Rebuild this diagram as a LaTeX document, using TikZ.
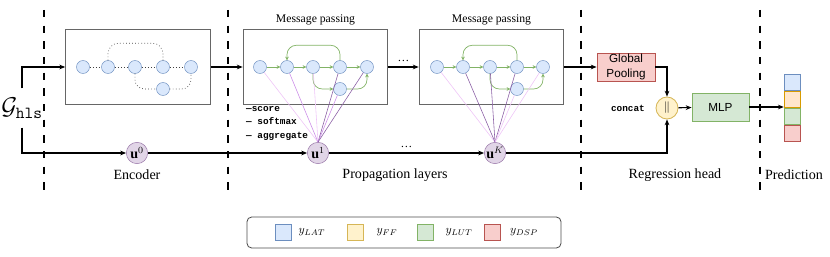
\documentclass[tikz,border=0pt]{standalone}
\usepackage{amsmath}
\usepackage{fontspec}
\setmainfont{Liberation Serif}
\setmonofont{Liberation Mono}
\newfontfamily\drawsans{Liberation Sans}
\newfontfamily\lmmono{Latin Modern Mono}
\usepackage{xcolor}
\definecolor{nodeblue}{HTML}{DAE8FC}
\definecolor{edgeblue}{HTML}{6C8EBF}
\definecolor{fillyellow}{HTML}{FFF2CC}
\definecolor{edgeyellow}{HTML}{D6B656}
\definecolor{fillorange}{HTML}{FFE6CC}
\definecolor{edgeorange}{HTML}{D79B00}
\definecolor{fillgreen}{HTML}{D5E8D4}
\definecolor{edgegreen}{HTML}{82B366}
\definecolor{fillred}{HTML}{F8CECC}
\definecolor{edgered}{HTML}{B85450}
\definecolor{fillpurple}{HTML}{E1D5E7}
\definecolor{edgepurple}{HTML}{9673A6}
\definecolor{attnlight}{HTML}{EEC4F7}
\definecolor{attnmid}{HTML}{CC8DE8}
\definecolor{attndark}{HTML}{8B5FA5}
\usepackage{tikz}
\usetikzlibrary{
  arrows.meta,
  positioning,
  calc
}

\begin{document}
\begin{tikzpicture}[
  x=0.03cm, y=-0.03cm,
  gnode/.style={circle, draw=edgeblue, fill=nodeblue, minimum size=0.39cm, inner sep=0pt},
  panel/.style={rectangle, draw=black!60, line width=0.8pt, minimum width=4.34cm, minimum height=2.25cm},
  unode/.style={circle, draw=edgepurple, fill=fillpurple, minimum size=0.64cm, inner sep=0pt, font=\large},
  box/.style={rectangle, minimum height=0.84cm, font=\drawsans, align=center, inner sep=1pt, line width=0.7pt},
  cell/.style={rectangle, minimum width=0.5cm, minimum height=0.48cm, inner sep=0pt, line width=0.7pt},
  arr/.style={-{Stealth[length=5pt, width=4pt]}, line width=0.9pt},
  msg/.style={-{Stealth[length=3pt, width=3pt]}, edgegreen, line width=0.6pt},
  link/.style={dotted, black!75, line width=0.6pt},
  attn/.style={line width=0.5pt},
  sep/.style={line width=2.5pt, dash pattern=on 0.22cm off 0.25cm},
  lbl/.style={font=\large}
]
  \useasboundingbox (0,0) rectangle (830,257);

  % stage separators
  \draw[sep] (44,10) -- (44,193);
  \draw[sep] (228,10) -- (228,193);
  \draw[sep] (581,10) -- (581,193);
  \draw[sep] (760,10) -- (760,193);

  % input graph
  \node[minimum height=1.17cm, inner sep=0pt, font=\huge] (g) at (22,108) {$\mathcal{G}_{\text{\lmmono hls}}$};

  % encoder
  \node[panel] (enc) at (138,67) {};
  \node[gnode] (e1) at (83,67) {};
  \node[gnode] (e2) at (108,67) {};
  \node[gnode] (e3) at (135,67) {};
  \node[gnode] (e4) at (163,67) {};
  \node[gnode] (e5) at (191,67) {};
  \node[gnode] (e6) at (163,89) {};
  \draw[link] (e1) -- (e2) (e2) -- (e3) (e3) -- (e4) (e4) -- (e5);
  \draw[link, rounded corners=9pt] (e2.north) -- ++(0,-17) -| (e4.north);
  \draw[link, rounded corners=8pt] (e3.south) |- (e6.west);
  \draw[link, rounded corners=8pt] (e6.east) -| (e5.south);

  % first propagation layer
  \node[panel] (mp1) at (315.5,67) {};
  \node[above=0pt of mp1] {Message passing};
  \node[gnode] (a1) at (260,67) {};
  \node[gnode] (a2) at (287,67) {};
  \node[gnode] (a3) at (313,67) {};
  \node[gnode] (a4) at (340,67) {};
  \node[gnode] (a5) at (367,67) {};
  \node[gnode] (a6) at (340,89) {};
  \draw[msg] (a1) -- (a2);
  \draw[msg] (a2) -- (a3);
  \draw[msg] (a3) -- (a4);
  \draw[msg] (a4) -- (a5);
  \draw[msg, rounded corners=8pt] (a4.north) -- ++(0,-15) -| (a2.north);
  \draw[msg, rounded corners=8pt] (a3.south) |- (a6.west);
  \draw[msg, rounded corners=8pt] (a6.east) -| (a5.south);

  % last propagation layer
  \node[panel] (mp2) at (491.5,67) {};
  \node[above=0pt of mp2] {Message passing};
  \node[gnode] (b1) at (437,67) {};
  \node[gnode] (b2) at (463,67) {};
  \node[gnode] (b3) at (490,67) {};
  \node[gnode] (b4) at (517,67) {};
  \node[gnode] (b5) at (543,67) {};
  \node[gnode] (b6) at (517,89) {};
  \draw[msg] (b1) -- (b2);
  \draw[msg] (b2) -- (b3);
  \draw[msg] (b3) -- (b4);
  \draw[msg] (b4) -- (b5);
  \draw[msg, rounded corners=8pt] (b4.north) -- ++(0,-15) -| (b2.north);
  \draw[msg, rounded corners=8pt] (b3.south) |- (b6.west);
  \draw[msg, rounded corners=8pt] (b6.east) -| (b5.south);

  % global state
  \node[unode] (u0) at (137,153) {$\mathbf{u}^0$};
  \node[unode] (u1) at (318,153) {$\mathbf{u}^1$};
  \node[unode] (uK) at (495,153) {$\mathbf{u}^K$};

  \node[anchor=north west, align=left, inner sep=0pt, font=\footnotesize\ttfamily\bfseries] (ops) at (246,106)
    {\textemdash score\\[2pt] \textemdash{} softmax\\[2pt] \textemdash{} aggregate};

  % attention weights
  \draw[attn, attnlight] (u1.north) -- (a1);
  \draw[attn, attnmid] (u1.north) -- (a2);
  \draw[attn, attnlight] (u1.north) -- (a3);
  \draw[attn, attndark] (u1.north) -- (a4);
  \draw[attn, attnmid] (u1.north) -- (a6);
  \draw[attn, attndark] (u1.north) -- (a5);
  \draw[attn, attnlight] (uK.north) -- (b1);
  \draw[attn, attndark] (uK.north) -- (b2);
  \draw[attn, attndark] (uK.north) -- (b3);
  \draw[attn, attndark] (uK.north) -- (b4);
  \draw[attn, attnlight] (uK.north) -- (b6);
  \draw[attn, attnlight] (uK.north) -- (b5);

  % regression head
  \node[box, fill=fillred, draw=edgered, minimum width=1.74cm] (pool) at (626,67) {Global\\Pooling};
  \node[circle, draw=edgeyellow, fill=fillyellow, minimum size=0.66cm, inner sep=0pt, line width=0.7pt] (cat) at (667,108) {$\|$};
  \node[left=0.2cm of cat, font=\footnotesize\ttfamily\bfseries] (cattxt) {concat};
  \node[box, fill=fillgreen, draw=edgegreen, minimum width=1.71cm] (mlp) at (720.5,107) {MLP};

  % prediction
  \node[cell, fill=nodeblue, draw=edgeblue] (p1) at (792.5,82.5) {};
  \node[cell, fill=fillorange, draw=edgeorange, below=0pt of p1] (p2) {};
  \node[cell, fill=fillgreen, draw=edgegreen, below=0pt of p2] (p3) {};
  \node[cell, fill=fillred, draw=edgered, below=0pt of p3] (p4) {};

  % data flow
  \draw[arr] (g.north) |- (enc.west);
  \draw[arr] (enc) -- (mp1);
  \draw[arr] (mp1) -- node[above=1pt]{\dots} (mp2);
  \draw[arr] (mp2) -- (pool);
  \draw[arr] (pool.east) -| (cat.north);
  \draw[arr] (g.south) |- (u0.west);
  \draw[arr] (u0) -- (u1);
  \draw[arr] (u1) -- node[above=1pt]{\dots} (uK);
  \draw[arr] (uK.east) -| (cat.south);
  \draw[arr] (cat) -- (mlp);
  \draw[arr] (mlp) -- (mlp -| p2.west);

  % stage names
  \node[lbl] (lenc) at (137,175) {Encoder};
  \node[lbl] (lprop) at (395,175) {Propagation layers};
  \node[lbl] (lhead) at (675,175) {Regression head};
  \node[lbl] (lpred) at (794,175) {Prediction};

  % legend
  \node[draw=black!70, rounded corners=4pt, line width=0.7pt, minimum width=9.42cm, minimum height=0.93cm] (legend) at (404,232.5) {};
  \node[cell, minimum width=0.48cm, fill=nodeblue, draw=edgeblue] (kLAT) at (283,232) {};
  \node (tLAT) at (312,232) {$y_{LAT}$};
  \node[cell, minimum width=0.48cm, fill=fillyellow, draw=edgeyellow] (kFF) at (355,232) {};
  \node (tFF) at (387,232) {$y_{FF}$};
  \node[cell, minimum width=0.48cm, fill=fillgreen, draw=edgegreen] (kLUT) at (425,232) {};
  \node (tLUT) at (459,232) {$y_{LUT}$};
  \node[cell, minimum width=0.48cm, fill=fillred, draw=edgered] (kDSP) at (492,232) {};
  \node (tDSP) at (524,232) {$y_{DSP}$};
\end{tikzpicture}
\end{document}
